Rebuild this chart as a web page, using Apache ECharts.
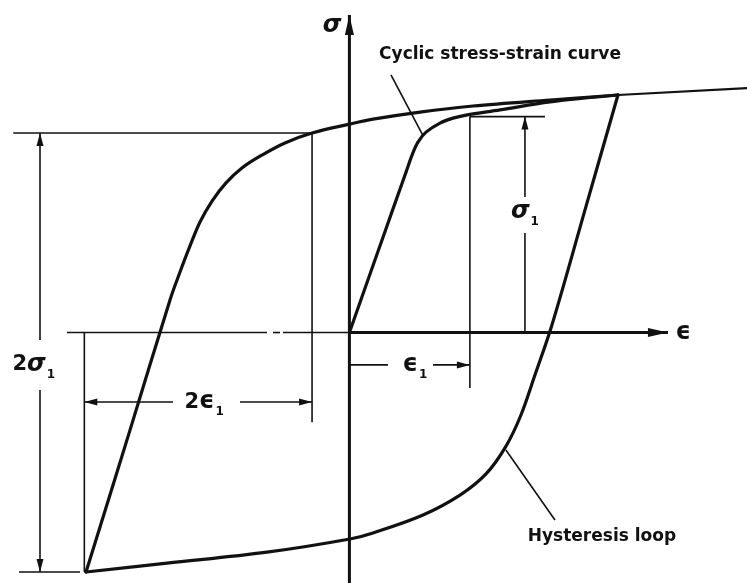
<!DOCTYPE html>
<html>
<head>
<meta charset="utf-8">
<script src="https://cdn.jsdelivr.net/npm/echarts@6/dist/echarts.min.js"></script>
<style>
  html, body { margin: 0; padding: 0; background: #fff; }
  #chart { width: 747px; height: 583px; }
</style>
</head>
<body>
<div id="chart"></div>
<script>
// Strain is measured in units of ε1, stress in units of σ1.

// Cyclic stress-strain curve: from the origin up to the loop tip
const cyclicCurve = [
  [0, 0], [0.196, 0.31], [0.378, 0.598], [0.47, 0.743], [0.52, 0.822],
  [0.569, 0.882], [0.636, 0.928], [0.752, 0.97], [0.86, 0.993],
  [0.968, 1.007], [1.25, 1.031], [1.665, 1.068], [2.229, 1.1]
];
// Continuation of the cyclic curve beyond the loop tip
const cyclicExtension = [[2.229, 1.1], [3.3, 1.132]];

// Hysteresis loop, rising branch (compression tip -> tension tip)
const loopUpper = [
  [-2.186, -1.109], [-1.821, -0.452], [-1.489, 0.151], [-1.406, 0.28],
  [-1.323, 0.401], [-1.24, 0.512], [-1.14, 0.609], [-1.024, 0.693],
  [-0.892, 0.762], [-0.725, 0.822], [-0.535, 0.878], [-0.31, 0.924],
  [0, 0.965], [0.196, 0.988], [0.586, 1.021], [1.026, 1.049],
  [1.665, 1.077], [2.229, 1.1]
];
// Hysteresis loop, falling branch (tension tip -> compression tip)
const loopLower = [
  [2.229, 1.1], [1.955, 0.567], [1.681, 0.035], [1.54, -0.197],
  [1.424, -0.382], [1.3, -0.526], [1.134, -0.655], [0.918, -0.753],
  [0.611, -0.845], [0.196, -0.928], [0.005, -0.956], [-0.684, -1.017],
  [-1.514, -1.068], [-2.186, -1.109]
];

// Coordinate axes: [x1, y1, x2, y2, arrowAtStart, arrowAtEnd]
const axisLines = [
  [0, -1.16, 0, 1.471, 0, 1],   // σ
  [0, 0, 2.644, 0, 0, 1]        // ϵ
];
// Negative strain axis (broken line)
const negativeAxis = [
  [-2.344, 0, -0.684, 0, 0, 0],
  [-0.634, 0, -0.576, 0, 0, 0],
  [-0.551, 0, 0, 0, 0, 0]
];
// Extension and dimension lines: [x1, y1, x2, y2, arrowAtStart, arrowAtEnd]
const dimensionLines = [
  [-2.79, 0.924, -0.31, 0.924, 0, 0],
  [-2.742, -1.109, -2.236, -1.109, 0, 0],
  [-2.568, -0.035, -2.568, 0.924, 0, 1],
  [-2.568, -0.266, -2.568, -1.109, 0, 1],
  [-2.2, 0, -2.2, -1.109, 0, 0],
  [-0.31, 0.924, -0.31, -0.415, 0, 0],
  [-1.464, -0.322, -2.2, -0.322, 0, 1],
  [-0.908, -0.322, -0.31, -0.322, 0, 1],
  [1.0, 1.0, 1.623, 1.0, 0, 0],
  [1.457, 0.628, 1.457, 1.0, 0, 1],
  [1.457, 0.461, 1.457, 0, 0, 0],
  [1.0, 1.0, 1.0, -0.257, 0, 0],
  [0, -0.15, 0.32, -0.15, 0, 0],
  [0.694, -0.15, 1.0, -0.15, 0, 1]
];
// Leader lines for the captions
const leaderLines = [
  [0.345, 1.193, 0.611, 0.912, 0, 0],
  [1.299, -0.544, 1.706, -0.868, 0, 0]
];

// Symbol labels: [x, y, main, subscript]
const symbolLabels = [
  [-0.144, 1.42, 'σ', ''],
  [2.77, 0, 'ϵ', ''],
  [-2.62, -0.15, '2σ', '1'],
  [-1.206, -0.322, '2ϵ', '1'],
  [0.544, -0.15, 'ϵ', '1'],
  [1.457, 0.557, 'σ', '1']
];
// Captions: [x, y, text]
const captions = [
  [1.25, 1.285, 'Cyclic stress-strain curve'],
  [2.096, -0.947, 'Hysteresis loop']
];

const INK = '#111';

function guideSeries(data, lineWidth, arrowLen, arrowWidth) {
  return {
    type: 'custom',
    silent: true,
    clip: false,
    data: data,
    dimensions: ['x1', 'y1', 'x2', 'y2', 'a1', 'a2'],
    encode: { x: [0, 2], y: [1, 3] },
    renderItem: function (params, api) {
      const p1 = api.coord([api.value(0), api.value(1)]);
      const p2 = api.coord([api.value(2), api.value(3)]);
      const children = [{
        type: 'line',
        shape: { x1: p1[0], y1: p1[1], x2: p2[0], y2: p2[1] },
        style: { stroke: INK, lineWidth: lineWidth, lineCap: 'butt' }
      }];
      function head(tip, from) {
        const dx = tip[0] - from[0], dy = tip[1] - from[1];
        const len = Math.sqrt(dx * dx + dy * dy) || 1;
        const ux = dx / len, uy = dy / len;
        const bx = tip[0] - ux * arrowLen, by = tip[1] - uy * arrowLen;
        const nx = -uy * arrowWidth / 2, ny = ux * arrowWidth / 2;
        return {
          type: 'polygon',
          shape: { points: [[tip[0], tip[1]], [bx + nx, by + ny], [bx - nx, by - ny]] },
          style: { fill: INK }
        };
      }
      if (api.value(4)) children.push(head(p1, p2));
      if (api.value(5)) children.push(head(p2, p1));
      return { type: 'group', children: children };
    }
  };
}

function curveSeries(data, width) {
  return {
    type: 'line',
    data: data,
    smooth: 0.35,
    showSymbol: false,
    silent: true,
    clip: false,
    lineStyle: { color: INK, width: width, cap: 'round', join: 'round' }
  };
}

const symbolSeries = {
  type: 'custom',
  silent: true,
  clip: false,
  data: symbolLabels.map(function (d) { return [d[0], d[1]]; }),
  renderItem: function (params, api) {
    const d = symbolLabels[params.dataIndex];
    const p = api.coord([d[0], d[1]]);
    let text = '';
    for (const ch of d[2]) {
      if (ch === 'σ') text += '{sig|σ}';
      else if (ch === 'ϵ') text += '{eps|ϵ}';
      else text += '{num|' + ch + '}';
    }
    if (d[3]) text += '{sub|' + d[3] + '}';
    return {
      type: 'text',
      x: p[0], y: p[1],
      style: {
        text: text,
        align: 'center',
        verticalAlign: 'middle',
        fill: INK,
        rich: {
          num: { fontFamily: 'DejaVu Sans', fontWeight: 'bold', fontSize: 21, lineHeight: 26, fill: INK },
          sig: { fontFamily: 'DejaVu Sans', fontWeight: 'bold', fontStyle: 'italic', fontSize: 24, lineHeight: 26, fill: INK },
          eps: { fontFamily: 'DejaVu Sans', fontWeight: 'bold', fontSize: 24, lineHeight: 26, fill: INK },
          sub: { fontFamily: 'DejaVu Sans', fontWeight: 'bold', fontSize: 12, lineHeight: 24, padding: [20, 0, 0, 1], fill: INK }
        }
      }
    };
  }
};

const captionSeries = {
  type: 'custom',
  silent: true,
  clip: false,
  data: captions.map(function (d) { return [d[0], d[1]]; }),
  renderItem: function (params, api) {
    const d = captions[params.dataIndex];
    const p = api.coord([d[0], d[1]]);
    return {
      type: 'text',
      x: p[0], y: p[1],
      style: {
        text: d[2],
        align: 'center',
        verticalAlign: 'middle',
        fill: INK,
        font: 'bold 17px "DejaVu Sans", sans-serif'
      }
    };
  }
};

const chart = echarts.init(document.getElementById('chart'), null, { renderer: 'canvas' });
chart.setOption({
  animation: false,
  backgroundColor: '#fff',
  grid: { left: 0, right: 0, top: 0, bottom: 0 },
  xAxis: { type: 'value', min: -2.9, max: 3.3, show: false },
  yAxis: { type: 'value', min: -1.16, max: 1.54, show: false },
  series: [
    guideSeries(negativeAxis, 1.6, 0, 0),
    guideSeries(dimensionLines, 1.6, 13, 7),
    guideSeries(leaderLines, 1.6, 0, 0),
    guideSeries(axisLines, 3, 20, 9),
    curveSeries(cyclicCurve, 3.2),
    curveSeries(cyclicExtension, 2.2),
    curveSeries(loopUpper, 3.2),
    curveSeries(loopLower, 3.2),
    symbolSeries,
    captionSeries
  ]
});
</script>
</body>
</html>
